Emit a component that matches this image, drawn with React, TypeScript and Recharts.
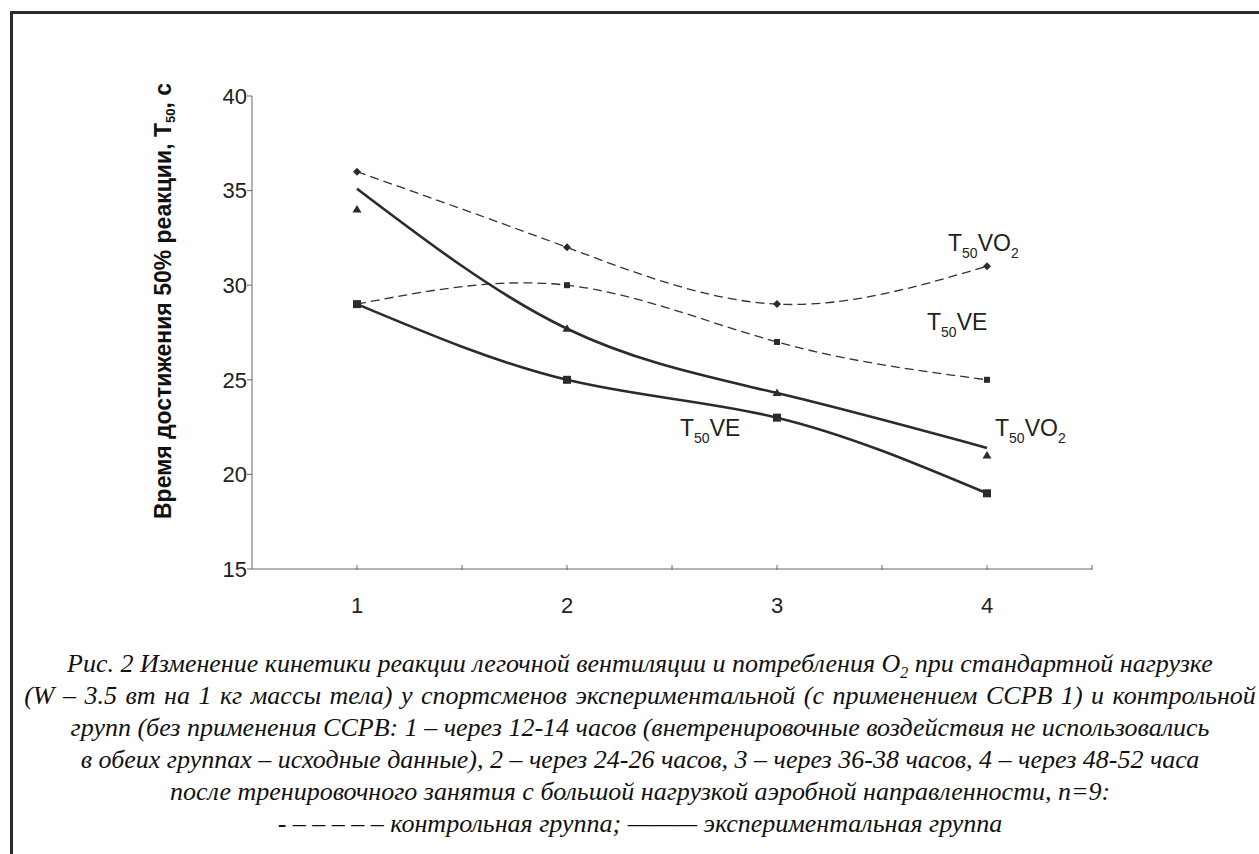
import React from "react";
import { ComposedChart, Line, XAxis, YAxis } from "recharts";

const periods = [1, 2, 3, 4];
const controlVO2 = [36, 32, 29, 31];
const controlVE = [29, 30, 27, 25];
const expVO2Points = [34, 27.7, 24.3, 21];
const expVO2Trend = [35.1, 27.7, 24.3, 21.4];
const expVE = [29, 25, 23, 19];
const yTicks = [15, 20, 25, 30, 35, 40];
const xTicks = [1, 1.5, 2, 2.5, 3, 3.5, 4, 4.5];

const data = periods.map((p, i) => ({
  x: p,
  cVO2: controlVO2[i],
  cVE: controlVE[i],
  eVO2: expVO2Points[i],
  eVO2Trend: expVO2Trend[i],
  eVE: expVE[i],
}));

const INK = "#2b2b2b";
const SANS = "'Liberation Sans', Arial, sans-serif";
const SERIF = "'Liberation Serif', 'Times New Roman', serif";

const Diamond = ({ cx, cy }: any) => (
  <path d={`M${cx},${cy - 4}L${cx + 4},${cy}L${cx},${cy + 4}L${cx - 4},${cy}Z`} fill={INK} />
);
const SmallSquare = ({ cx, cy }: any) => <rect x={cx - 3} y={cy - 3} width={6} height={6} fill={INK} />;
const BigSquare = ({ cx, cy }: any) => <rect x={cx - 4} y={cy - 4} width={8} height={8} fill={INK} />;
const Triangle = ({ cx, cy }: any) => (
  <path d={`M${cx},${cy - 4.5}L${cx + 4.5},${cy + 3}L${cx - 4.5},${cy + 3}Z`} fill={INK} />
);

const XTick = ({ x, y, payload }: any) => (
  <g>
    <line x1={x} y1={y - 4} x2={x} y2={y + 1} stroke="#666" />
    {Number.isInteger(payload.value) && (
      <text x={x} y={y + 44} textAnchor="middle" fontSize={22} fill="#222" fontFamily={SANS}>
        {payload.value}
      </text>
    )}
  </g>
);

const SeriesLabel = ({ x, y, name }: { x: number; y: number; name: string }) => (
  <text x={x} y={y} fontSize={23} fill="#222" fontFamily={SANS}>
    T
    <tspan fontSize={14} dy={7}>50</tspan>
    <tspan fontSize={23} dy={-7}>{name === "VO2" ? "VO" : "VE"}</tspan>
    {name === "VO2" && <tspan fontSize={14} dy={7}>2</tspan>}
  </text>
);

const captionLine: React.CSSProperties = {
  position: "absolute",
  left: 0,
  width: 1280,
  textAlign: "center",
  whiteSpace: "nowrap",
  fontFamily: SERIF,
  fontStyle: "italic",
  fontSize: 26,
  lineHeight: "32px",
  color: "#111",
};

export default function App() {
  return (
    <div style={{ position: "absolute", left: 0, top: 0, width: 1259, height: 854, background: "#fff", overflow: "hidden" }}>
      <div
        style={{
          position: "absolute",
          left: 10,
          top: 11,
          width: 1300,
          height: 900,
          borderTop: `3px solid ${INK}`,
          borderLeft: `3px solid ${INK}`,
        }}
      />
      <div style={{ position: "absolute", left: 0, top: 0 }}>
        <ComposedChart width={1259} height={854} data={data} margin={{ top: 96, right: 167, bottom: 255, left: 192 }}>
          <XAxis
            dataKey="x"
            type="number"
            domain={[0.5, 4.5]}
            ticks={xTicks}
            interval={0}
            height={30}
            stroke="#666"
            tickSize={0}
            tickMargin={0}
            tickLine={false}
            tick={<XTick />}
          />
          <YAxis
            type="number"
            domain={[15, 40]}
            ticks={yTicks}
            interval={0}
            width={60}
            stroke="#666"
            tickSize={5}
            tickMargin={0}
            tick={{ fontSize: 22, fill: "#222", fontFamily: SANS }}
          />
          <Line
            dataKey="cVO2"
            type="natural"
            stroke="#333"
            strokeWidth={1.3}
            strokeDasharray="9 5"
            dot={(p: any) => <Diamond key={`d${p.index}`} cx={p.cx} cy={p.cy} />}
            activeDot={false}
            isAnimationActive={false}
          />
          <Line
            dataKey="cVE"
            type="natural"
            stroke="#333"
            strokeWidth={1.3}
            strokeDasharray="9 5"
            dot={(p: any) => <SmallSquare key={`s${p.index}`} cx={p.cx} cy={p.cy} />}
            activeDot={false}
            isAnimationActive={false}
          />
          <Line
            dataKey="eVO2Trend"
            type="natural"
            stroke={INK}
            strokeWidth={2.6}
            dot={false}
            activeDot={false}
            isAnimationActive={false}
          />
          <Line
            dataKey="eVO2"
            stroke="none"
            dot={(p: any) => <Triangle key={`t${p.index}`} cx={p.cx} cy={p.cy} />}
            activeDot={false}
            isAnimationActive={false}
          />
          <Line
            dataKey="eVE"
            type="natural"
            stroke={INK}
            strokeWidth={2.6}
            dot={(p: any) => <BigSquare key={`b${p.index}`} cx={p.cx} cy={p.cy} />}
            activeDot={false}
            isAnimationActive={false}
          />
        </ComposedChart>
      </div>
      <svg width={1259} height={854} style={{ position: "absolute", left: 0, top: 0, pointerEvents: "none" }}>
        <text
          transform="translate(171,301) rotate(-90)"
          textAnchor="middle"
          fontSize={23}
          fontWeight="bold"
          fill="#111"
          fontFamily={SANS}
        >
          Время достижения 50% реакции, Т
          <tspan fontSize={13} dy={4}>50</tspan>
          <tspan fontSize={23} dy={-4}>, с</tspan>
        </text>
        <SeriesLabel x={948} y={251} name="VO2" />
        <SeriesLabel x={927} y={330} name="VE" />
        <SeriesLabel x={680} y={436} name="VE" />
        <SeriesLabel x={995} y={436} name="VO2" />
      </svg>
      <div style={{ ...captionLine, top: 648 }}>
        Рис. 2 Изменение кинетики реакции легочной вентиляции и потребления O
        <span style={{ fontSize: 16, position: "relative", top: 6 }}>2</span> при стандартной нагрузке
      </div>
      <div style={{ ...captionLine, top: 680, wordSpacing: 2 }}>
        (W – 3.5 вт на 1 кг массы тела) у спортсменов экспериментальной (с применением ССРВ 1) и контрольной
      </div>
      <div style={{ ...captionLine, top: 712 }}>
        групп (без применения ССРВ: 1 – через 12-14 часов (внетренировочные воздействия не использовались
      </div>
      <div style={{ ...captionLine, top: 744 }}>
        в обеих группах – исходные данные), 2 – через 24-26 часов, 3 – через 36-38 часов, 4 – через 48-52 часа
      </div>
      <div style={{ ...captionLine, top: 776 }}>
        после тренировочного занятия с большой нагрузкой аэробной направленности, n=9:
      </div>
      <div style={{ ...captionLine, top: 808 }}>
        - – – – – – контрольная группа; ——— экспериментальная группа
      </div>
    </div>
  );
}
